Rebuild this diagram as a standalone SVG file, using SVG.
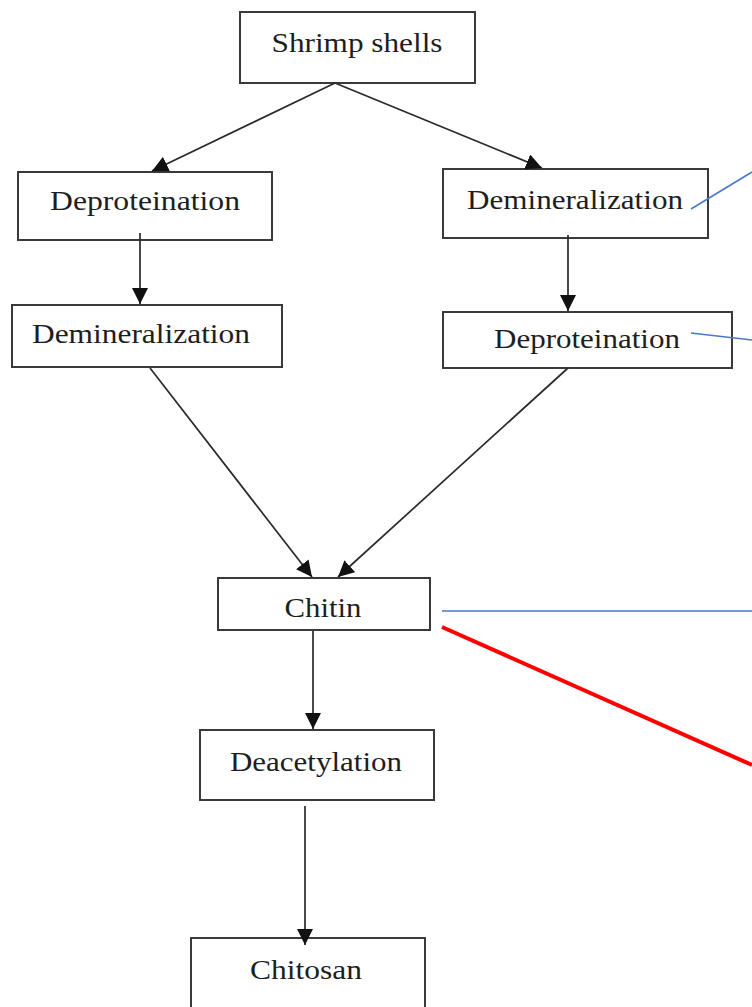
<svg xmlns="http://www.w3.org/2000/svg" width="752" height="1007" viewBox="0 0 752 1007">
<defs>
<style>
.box{fill:#fff;stroke:#3a3a3a;stroke-width:2}
.t{font-family:"Liberation Serif","Times New Roman",serif;font-size:28px;fill:#1e1e1e;text-anchor:middle}
.c{stroke:#2a2a2a;stroke-width:1.7;fill:none}
.blue{stroke:#4a78c8;stroke-width:1.6;fill:none}
.red{stroke:#ff0000;stroke-width:4;fill:none}
</style>
<marker id="ahb" viewBox="0 0 10 10" refX="10" refY="5" markerWidth="16" markerHeight="16" markerUnits="userSpaceOnUse" orient="auto">
<path d="M0,0 L10,5 L0,10 Z" fill="#111"/>
</marker>
</defs>
<rect width="752" height="1007" fill="#fff"/>
<g id="shrimp"><rect class="box" x="240" y="12" width="235" height="71"/><text class="t" x="357" y="52" textLength="171" lengthAdjust="spacingAndGlyphs">Shrimp shells</text></g>
<g id="deprot1"><rect class="box" x="18" y="172" width="254" height="68"/><text class="t" x="145" y="210" textLength="190" lengthAdjust="spacingAndGlyphs">Deproteination</text></g>
<g id="demin1"><rect class="box" x="443" y="169" width="265" height="69"/><text class="t" x="575" y="209" textLength="216" lengthAdjust="spacingAndGlyphs">Demineralization</text></g>
<g id="demin2"><rect class="box" x="12" y="305" width="270" height="62"/><text class="t" x="141" y="343" textLength="218" lengthAdjust="spacingAndGlyphs">Demineralization</text></g>
<g id="deprot2"><rect class="box" x="443" y="312" width="289" height="56"/><text class="t" x="587" y="348" textLength="186" lengthAdjust="spacingAndGlyphs">Deproteination</text></g>
<g id="chitin"><rect class="box" x="218" y="578" width="212" height="52"/><text class="t" x="323" y="617" textLength="77" lengthAdjust="spacingAndGlyphs">Chitin</text></g>
<g id="deacet"><rect class="box" x="200" y="730" width="234" height="70"/><text class="t" x="316" y="771" textLength="172" lengthAdjust="spacingAndGlyphs">Deacetylation</text></g>
<g id="chitosan"><rect class="box" x="191" y="938" width="234" height="75"/><text class="t" x="306" y="979" textLength="112" lengthAdjust="spacingAndGlyphs">Chitosan</text></g>
<g id="connectors">
<line class="c" x1="335" y1="83" x2="152" y2="171" marker-end="url(#ahb)"/>
<line class="c" x1="335" y1="83" x2="542" y2="168" marker-end="url(#ahb)"/>
<line class="c" x1="140" y1="233" x2="140" y2="304" marker-end="url(#ahb)"/>
<line class="c" x1="568" y1="235" x2="568" y2="311" marker-end="url(#ahb)"/>
<line class="c" x1="150" y1="368" x2="312" y2="577" marker-end="url(#ahb)"/>
<line class="c" x1="568" y1="368" x2="338" y2="577" marker-end="url(#ahb)"/>
<line class="c" x1="313" y1="631" x2="313" y2="729" marker-end="url(#ahb)"/>
<line class="c" x1="305" y1="806" x2="305" y2="945" marker-end="url(#ahb)"/>
<line class="blue" x1="691" y1="209" x2="752" y2="172"/>
<line class="blue" x1="691" y1="333" x2="752" y2="340"/>
<line class="blue" x1="442" y1="611" x2="752" y2="611"/>
<line class="red" x1="442" y1="627" x2="752" y2="765"/>
</g>
</svg>
